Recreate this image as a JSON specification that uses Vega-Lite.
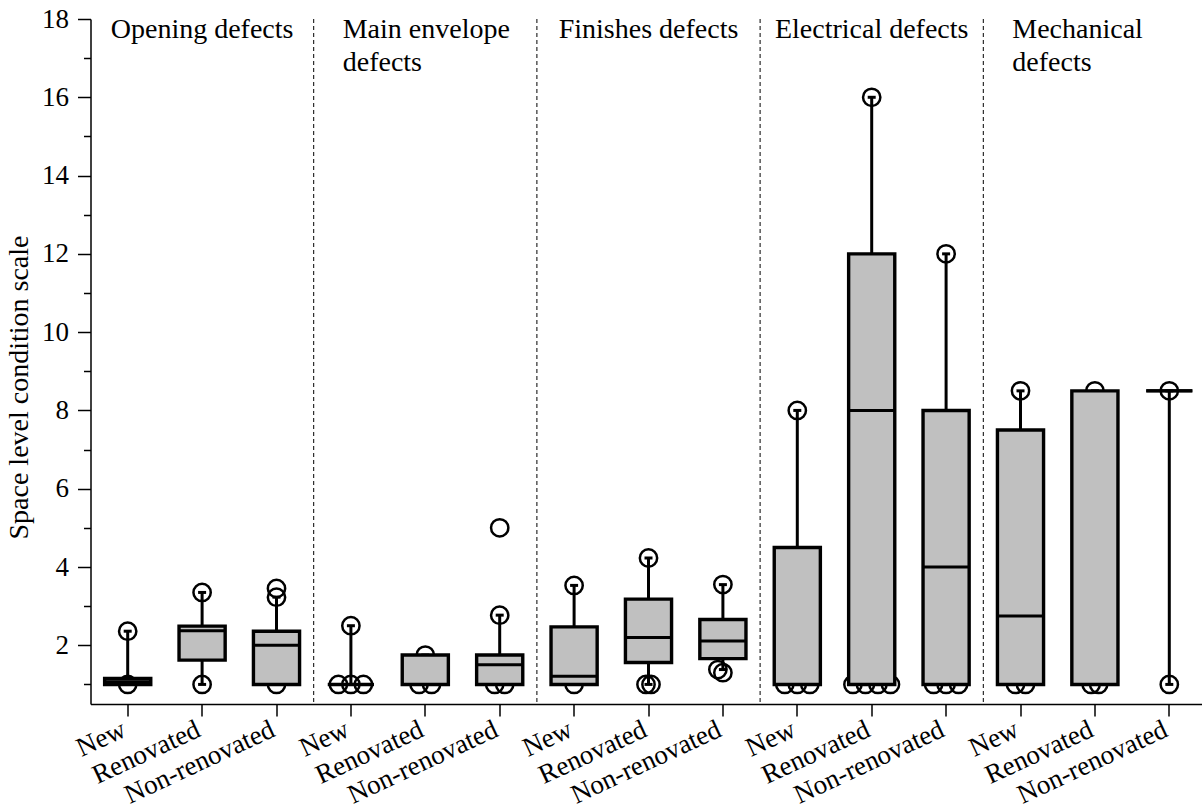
{
  "$schema": "https://vega.github.io/schema/vega-lite/v6.json",
  "width": 1116,
  "height": 685,
  "autosize": "none",
  "padding": {"left": 90.5, "top": 19, "right": 0, "bottom": 107},
  "background": "white",
  "config": {
    "view": {"stroke": null},
    "font": "Liberation Serif",
    "axis": {
      "labelFont": "Liberation Serif",
      "titleFont": "Liberation Serif",
      "labelColor": "black",
      "titleColor": "black",
      "tickColor": "black",
      "domainColor": "black",
      "grid": false
    }
  },
  "resolve": {"scale": {"xOffset": "independent"}},
  "datasets": {
    "boxes": [
      {"id": "Opening|New", "lo": 1, "q1": 1, "med": 1.07, "q3": 1.15, "hi": 2.36},
      {"id": "Opening|Renovated", "lo": 1, "q1": 1.62, "med": 2.37, "q3": 2.49, "hi": 3.35},
      {"id": "Opening|Non-renovated", "lo": 1, "q1": 1, "med": 2.0, "q3": 2.36, "hi": 3.23},
      {"id": "Envelope|New", "lo": 1, "q1": 1, "med": 1, "q3": 1, "hi": 2.5},
      {"id": "Envelope|Renovated", "lo": 1, "q1": 1, "med": 1, "q3": 1.75, "hi": 1.75},
      {"id": "Envelope|Non-renovated", "lo": 1, "q1": 1, "med": 1.5, "q3": 1.75, "hi": 2.77},
      {"id": "Finishes|New", "lo": 1, "q1": 1, "med": 1.21, "q3": 2.47, "hi": 3.53},
      {"id": "Finishes|Renovated", "lo": 1, "q1": 1.56, "med": 2.2, "q3": 3.18, "hi": 4.23},
      {"id": "Finishes|Non-renovated", "lo": 1.38, "q1": 1.66, "med": 2.11, "q3": 2.66, "hi": 3.55},
      {"id": "Electrical|New", "lo": 1, "q1": 1, "med": 1, "q3": 4.5, "hi": 8},
      {"id": "Electrical|Renovated", "lo": 1, "q1": 1, "med": 8, "q3": 12, "hi": 16},
      {"id": "Electrical|Non-renovated", "lo": 1, "q1": 1, "med": 4, "q3": 8, "hi": 12},
      {"id": "Mechanical|New", "lo": 1, "q1": 1, "med": 2.75, "q3": 7.5, "hi": 8.5},
      {"id": "Mechanical|Renovated", "lo": 1, "q1": 1, "med": 1, "q3": 8.5, "hi": 8.5},
      {"id": "Mechanical|Non-renovated", "lo": 1, "q1": 8.5, "med": 8.5, "q3": 8.5, "hi": 8.5}
    ],
    "points": [
      {"id": "Opening|New", "v": 2.36, "tie": 0},
      {"id": "Opening|New", "v": 1, "tie": 0},
      {"id": "Opening|Renovated", "v": 3.35, "tie": 0},
      {"id": "Opening|Renovated", "v": 1, "tie": 0},
      {"id": "Opening|Non-renovated", "v": 3.45, "tie": 0},
      {"id": "Opening|Non-renovated", "v": 3.23, "tie": 0},
      {"id": "Opening|Non-renovated", "v": 1, "tie": 0},
      {"id": "Envelope|New", "v": 2.5, "tie": 0},
      {"id": "Envelope|New", "v": 1, "tie": -1},
      {"id": "Envelope|New", "v": 1, "tie": 0},
      {"id": "Envelope|New", "v": 1, "tie": 1},
      {"id": "Envelope|Renovated", "v": 1.75, "tie": 0},
      {"id": "Envelope|Renovated", "v": 1, "tie": -0.5},
      {"id": "Envelope|Renovated", "v": 1, "tie": 0.5},
      {"id": "Envelope|Non-renovated", "v": 5, "tie": 0},
      {"id": "Envelope|Non-renovated", "v": 2.77, "tie": 0},
      {"id": "Envelope|Non-renovated", "v": 1, "tie": -0.4},
      {"id": "Envelope|Non-renovated", "v": 1, "tie": 0.4},
      {"id": "Finishes|New", "v": 3.53, "tie": 0},
      {"id": "Finishes|New", "v": 1, "tie": 0},
      {"id": "Finishes|Renovated", "v": 4.23, "tie": 0},
      {"id": "Finishes|Renovated", "v": 1, "tie": -0.2},
      {"id": "Finishes|Renovated", "v": 1, "tie": 0.2},
      {"id": "Finishes|Non-renovated", "v": 3.55, "tie": 0},
      {"id": "Finishes|Non-renovated", "v": 1.38, "tie": -0.4},
      {"id": "Finishes|Non-renovated", "v": 1.3, "tie": 0},
      {"id": "Electrical|New", "v": 8, "tie": 0},
      {"id": "Electrical|New", "v": 1, "tie": -1},
      {"id": "Electrical|New", "v": 1, "tie": 0},
      {"id": "Electrical|New", "v": 1, "tie": 1},
      {"id": "Electrical|Renovated", "v": 16, "tie": 0},
      {"id": "Electrical|Renovated", "v": 1, "tie": -1.5},
      {"id": "Electrical|Renovated", "v": 1, "tie": -0.5},
      {"id": "Electrical|Renovated", "v": 1, "tie": 0.5},
      {"id": "Electrical|Renovated", "v": 1, "tie": 1.5},
      {"id": "Electrical|Non-renovated", "v": 12, "tie": 0},
      {"id": "Electrical|Non-renovated", "v": 1, "tie": -1},
      {"id": "Electrical|Non-renovated", "v": 1, "tie": 0},
      {"id": "Electrical|Non-renovated", "v": 1, "tie": 1},
      {"id": "Mechanical|New", "v": 8.5, "tie": 0},
      {"id": "Mechanical|New", "v": 1, "tie": -0.4},
      {"id": "Mechanical|New", "v": 1, "tie": 0.4},
      {"id": "Mechanical|Renovated", "v": 8.5, "tie": 0},
      {"id": "Mechanical|Renovated", "v": 1, "tie": -0.3},
      {"id": "Mechanical|Renovated", "v": 1, "tie": 0.3},
      {"id": "Mechanical|Non-renovated", "v": 8.5, "tie": 0},
      {"id": "Mechanical|Non-renovated", "v": 1, "tie": 0}
    ],
    "groups": [
      {"id": "Envelope|New"},
      {"id": "Finishes|New"},
      {"id": "Electrical|New"},
      {"id": "Mechanical|New"}
    ],
    "titles": [
      {"id": "Opening|Renovated", "name": "Opening defects", "wrap": false},
      {"id": "Envelope|New", "name": "Main envelope\ndefects", "wrap": true},
      {"id": "Finishes|Renovated", "name": "Finishes defects", "wrap": false},
      {"id": "Electrical|Renovated", "name": "Electrical defects", "wrap": false},
      {"id": "Mechanical|New", "name": "Mechanical\ndefects", "wrap": true}
    ]
  },
  "encoding": {
    "x": {
      "field": "id",
      "type": "nominal",
      "sort": null,
      "scale": {
        "type": "band",
        "paddingInner": 0,
        "paddingOuter": 0,
        "domain": [
          "Opening|New", "Opening|Renovated", "Opening|Non-renovated",
          "Envelope|New", "Envelope|Renovated", "Envelope|Non-renovated",
          "Finishes|New", "Finishes|Renovated", "Finishes|Non-renovated",
          "Electrical|New", "Electrical|Renovated", "Electrical|Non-renovated",
          "Mechanical|New", "Mechanical|Renovated", "Mechanical|Non-renovated"
        ]
      },
      "axis": {
        "title": null,
        "labelExpr": "split(datum.value, '|')[1]",
        "labelAngle": -25,
        "labelAlign": "right",
        "labelBaseline": "alphabetic",
        "labelFontSize": 27,
        "labelPadding": 19,
        "labelOverlap": false,
        "labelBound": false,
        "tickSize": 12,
        "tickWidth": 1.5,
        "domainWidth": 1.5
      }
    }
  },
  "layer": [
    {
      "data": {"name": "groups"},
      "mark": {"type": "rule", "stroke": "black", "strokeWidth": 1, "strokeDash": [4, 3]},
      "encoding": {
        "x": {"field": "id", "type": "nominal", "bandPosition": 0}
      }
    },
    {
      "data": {"name": "points"},
      "mark": {"type": "point", "shape": "circle", "filled": false, "stroke": "black", "strokeWidth": 2.5, "size": 300, "opacity": 1},
      "encoding": {
        "y": {
          "field": "v",
          "type": "quantitative",
          "scale": {"domain": [0.5, 18], "nice": false, "zero": false},
          "axis": {
            "title": "Space level condition scale",
            "titleFontSize": 28,
            "titleFontWeight": "normal",
            "titlePadding": 8,
            "titleY": 368,
            "values": [1, 2, 3, 4, 5, 6, 7, 8, 9, 10, 11, 12, 13, 14, 15, 16, 17, 18],
            "labelExpr": "datum.value % 2 === 0 ? datum.label : ''",
            "labelFontSize": 27,
            "labelPadding": 9,
            "tickSize": {"condition": {"test": "datum.value % 2 === 1", "value": 7}, "value": 13},
            "tickWidth": 1.5,
            "domainWidth": 1.5
          }
        },
        "xOffset": {
          "field": "tie",
          "type": "quantitative",
          "scale": {"domain": [-1, 1], "range": [24.7, 49.7]}
        }
      }
    },
    {
      "data": {"name": "boxes"},
      "layer": [
        {
          "mark": {"type": "rule", "stroke": "black", "strokeWidth": 3},
          "encoding": {
            "y": {"field": "lo", "type": "quantitative"},
            "y2": {"field": "hi"}
          }
        },
        {
          "mark": {"type": "tick", "color": "black", "opacity": 1, "size": 8, "thickness": 3},
          "encoding": {"y": {"field": "hi", "type": "quantitative"}}
        },
        {
          "mark": {"type": "tick", "color": "black", "opacity": 1, "size": 8, "thickness": 3},
          "encoding": {"y": {"field": "lo", "type": "quantitative"}}
        },
        {
          "mark": {"type": "bar", "fill": "#c0c0c0", "stroke": "black", "strokeWidth": 3.4, "width": {"band": 0.62}},
          "encoding": {
            "y": {"field": "q1", "type": "quantitative"},
            "y2": {"field": "q3"}
          }
        },
        {
          "mark": {"type": "tick", "color": "black", "opacity": 1, "size": 46, "thickness": 3},
          "encoding": {"y": {"field": "med", "type": "quantitative"}}
        }
      ]
    },
    {
      "data": {"name": "titles"},
      "transform": [{"filter": "!datum.wrap"}],
      "mark": {"type": "text", "font": "Liberation Serif", "fontSize": 28, "color": "black", "align": "center", "baseline": "alphabetic", "dy": 19},
      "encoding": {
        "y": {"datum": 18},
        "text": {"field": "name"}
      }
    },
    {
      "data": {"name": "titles"},
      "transform": [{"filter": "datum.wrap"}],
      "mark": {"type": "text", "font": "Liberation Serif", "fontSize": 28, "color": "black", "align": "left", "baseline": "alphabetic", "dy": 19, "dx": 29, "lineBreak": "\n", "lineHeight": 33},
      "encoding": {
        "x": {"field": "id", "type": "nominal", "bandPosition": 0},
        "y": {"datum": 18},
        "text": {"field": "name"}
      }
    }
  ]
}
